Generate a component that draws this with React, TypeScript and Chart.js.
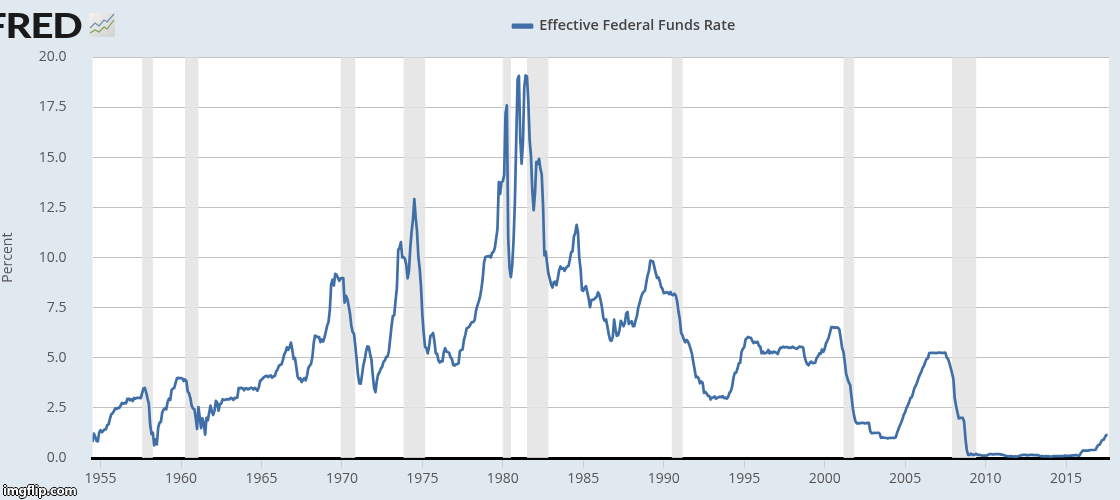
import React, { useEffect, useRef } from "react";
import { Chart, registerables } from "chart.js";

Chart.register(...registerables);

const seriesName = "Effective Federal Funds Rate";
const startYear = 1954.5;
const endYear = 2017.67;
const xTickYears = [1955, 1960, 1965, 1970, 1975, 1980, 1985, 1990, 1995, 2000, 2005, 2010, 2015];
const yTickValues = [0, 2.5, 5, 7.5, 10, 12.5, 15, 17.5, 20];
const recessionStarts = [1957.58, 1960.25, 1969.92, 1973.83, 1980.0, 1981.5, 1990.5, 2001.17, 2007.92];
const recessionEnds = [1958.25, 1961.08, 1970.83, 1975.17, 1980.5, 1982.83, 1991.17, 2001.83, 2009.42];

// Monthly values, beginning July 1954
const rates1950s = [
  0.80, 1.22, 1.07, 0.85, 0.83, 1.28,
  1.39, 1.29, 1.35, 1.43, 1.43, 1.64, 1.68, 1.96, 2.18, 2.24, 2.35, 2.48,
  2.45, 2.50, 2.50, 2.62, 2.75, 2.71, 2.75, 2.73, 2.95, 2.96, 2.88, 2.94,
  2.84, 3.00, 2.96, 3.00, 3.00, 3.00, 2.99, 3.24, 3.47, 3.50, 3.28, 2.98,
  2.72, 1.67, 1.20, 1.26, 0.63, 0.93, 0.68, 1.53, 1.76, 1.80, 2.27, 2.42,
  2.48, 2.43, 2.80, 2.96, 2.90, 3.39, 3.47, 3.50, 3.76, 3.98, 4.00, 3.99,
];
const rates1960s = [
  3.99, 3.97, 3.84, 3.92, 3.85, 3.32, 3.23, 2.98, 2.60, 2.47, 2.44, 1.98,
  1.45, 2.54, 2.02, 1.49, 1.98, 1.73, 1.17, 2.00, 1.88, 2.26, 2.61, 2.33,
  2.15, 2.37, 2.85, 2.78, 2.36, 2.68, 2.71, 2.93, 2.90, 2.90, 2.94, 2.93,
  2.92, 3.00, 2.98, 2.90, 3.00, 2.99, 3.02, 3.49, 3.48, 3.50, 3.48, 3.38,
  3.48, 3.48, 3.43, 3.47, 3.50, 3.50, 3.42, 3.50, 3.45, 3.36, 3.52, 3.85,
  3.90, 3.98, 4.04, 4.09, 4.10, 4.04, 4.09, 4.12, 4.01, 4.08, 4.10, 4.32,
  4.42, 4.60, 4.65, 4.67, 4.90, 5.17, 5.30, 5.53, 5.40, 5.53, 5.76, 5.40,
  4.94, 5.00, 4.53, 4.05, 3.94, 3.98, 3.79, 3.90, 3.99, 3.88, 4.13, 4.51,
  4.61, 4.71, 5.05, 5.76, 6.11, 6.07, 6.03, 6.03, 5.78, 5.92, 5.81, 6.02,
  6.30, 6.61, 6.79, 7.41, 8.67, 8.90, 8.61, 9.19, 9.15, 9.00, 8.85, 8.97,
];
const rates1970s = [
  8.98, 8.98, 7.76, 8.10, 7.95, 7.61, 7.21, 6.62, 6.29, 6.20, 5.60, 4.90,
  4.14, 3.72, 3.71, 4.15, 4.63, 4.91, 5.31, 5.57, 5.55, 5.20, 4.91, 4.14,
  3.50, 3.29, 3.83, 4.17, 4.27, 4.46, 4.55, 4.80, 4.87, 5.04, 5.06, 5.33,
  5.94, 6.58, 7.09, 7.12, 7.84, 8.49, 10.40, 10.50, 10.78, 10.01, 10.03, 9.95,
  9.65, 8.97, 9.35, 10.51, 11.31, 11.93, 12.92, 12.01, 11.34, 10.06, 9.45, 8.53,
  7.13, 6.24, 5.54, 5.49, 5.22, 5.55, 6.10, 6.14, 6.24, 5.82, 5.22, 5.20,
  4.87, 4.77, 4.84, 4.82, 5.29, 5.48, 5.31, 5.29, 5.25, 5.02, 4.95, 4.65,
  4.61, 4.68, 4.69, 4.73, 5.35, 5.39, 5.42, 5.90, 6.14, 6.47, 6.51, 6.56,
  6.70, 6.78, 6.79, 6.89, 7.36, 7.60, 7.81, 8.04, 8.45, 8.96, 9.76, 10.03,
  10.07, 10.06, 10.09, 10.01, 10.24, 10.29, 10.47, 10.94, 11.43, 13.77, 13.18, 13.78,
];
const rates1980s = [
  13.82, 14.13, 17.19, 17.61, 10.98, 9.47, 9.03, 9.61, 10.87, 12.81, 15.85, 18.90,
  19.08, 15.93, 14.70, 15.72, 18.52, 19.10, 19.04, 17.82, 15.87, 15.08, 13.31, 12.37,
  13.22, 14.78, 14.68, 14.94, 14.45, 14.15, 12.59, 10.12, 10.31, 9.71, 9.20, 8.95,
  8.68, 8.51, 8.77, 8.80, 8.63, 8.98, 9.37, 9.56, 9.45, 9.48, 9.34, 9.47,
  9.56, 9.59, 9.91, 10.29, 10.32, 11.06, 11.23, 11.64, 11.30, 9.99, 9.43, 8.38,
  8.35, 8.50, 8.58, 8.27, 7.97, 7.53, 7.88, 7.90, 7.92, 7.99, 8.05, 8.27,
  8.14, 7.86, 7.48, 6.99, 6.85, 6.92, 6.56, 6.17, 5.89, 5.85, 6.04, 6.91,
  6.43, 6.10, 6.13, 6.37, 6.85, 6.73, 6.58, 6.73, 7.22, 7.29, 6.69, 6.77,
  6.83, 6.58, 6.58, 6.87, 7.09, 7.51, 7.75, 8.01, 8.19, 8.30, 8.35, 8.76,
  9.12, 9.36, 9.85, 9.84, 9.81, 9.53, 9.24, 8.99, 9.02, 8.84, 8.55, 8.45,
];
const rates1990s = [
  8.23, 8.24, 8.28, 8.26, 8.18, 8.29, 8.15, 8.13, 8.20, 8.11, 7.81, 7.31,
  6.91, 6.25, 6.12, 5.91, 5.78, 5.90, 5.82, 5.66, 5.45, 5.21, 4.81, 4.43,
  4.03, 4.06, 3.98, 3.73, 3.82, 3.76, 3.25, 3.30, 3.22, 3.10, 3.09, 2.92,
  3.02, 3.03, 3.07, 2.96, 3.00, 3.04, 3.06, 3.03, 3.09, 2.99, 3.02, 2.96,
  3.05, 3.25, 3.34, 3.56, 4.01, 4.25, 4.26, 4.47, 4.73, 4.76, 5.29, 5.45,
  5.53, 5.92, 5.98, 6.05, 6.01, 6.00, 5.85, 5.74, 5.80, 5.76, 5.80, 5.60,
  5.56, 5.22, 5.31, 5.22, 5.24, 5.27, 5.40, 5.22, 5.30, 5.24, 5.31, 5.29,
  5.25, 5.19, 5.39, 5.51, 5.50, 5.56, 5.52, 5.54, 5.54, 5.50, 5.52, 5.50,
  5.56, 5.51, 5.49, 5.45, 5.49, 5.56, 5.54, 5.55, 5.51, 5.07, 4.83, 4.68,
  4.63, 4.76, 4.81, 4.74, 4.74, 4.76, 4.99, 5.07, 5.22, 5.20, 5.42, 5.30,
];
const rates2000s = [
  5.45, 5.73, 5.85, 6.02, 6.27, 6.53, 6.54, 6.50, 6.52, 6.51, 6.51, 6.40,
  5.98, 5.49, 5.31, 4.80, 4.21, 3.97, 3.77, 3.65, 3.07, 2.49, 2.09, 1.82,
  1.73, 1.74, 1.73, 1.75, 1.75, 1.75, 1.73, 1.74, 1.75, 1.75, 1.34, 1.24,
  1.24, 1.26, 1.25, 1.26, 1.26, 1.22, 1.01, 1.03, 1.01, 1.01, 1.00, 0.98,
  1.00, 1.01, 1.00, 1.00, 1.00, 1.03, 1.26, 1.43, 1.61, 1.76, 1.93, 2.16,
  2.28, 2.50, 2.63, 2.79, 3.00, 3.04, 3.26, 3.50, 3.62, 3.78, 4.00, 4.16,
  4.29, 4.49, 4.59, 4.79, 4.94, 4.99, 5.24, 5.25, 5.25, 5.25, 5.25, 5.24,
  5.25, 5.26, 5.26, 5.25, 5.25, 5.25, 5.26, 5.02, 4.94, 4.76, 4.49, 4.24,
  3.94, 2.98, 2.61, 2.28, 1.98, 2.00, 2.01, 2.00, 1.81, 0.97, 0.39, 0.16,
  0.15, 0.22, 0.18, 0.15, 0.18, 0.21, 0.16, 0.16, 0.15, 0.12, 0.12, 0.12,
];
const rates2010s = [
  0.11, 0.13, 0.16, 0.20, 0.20, 0.18, 0.18, 0.19, 0.19, 0.19, 0.19, 0.18,
  0.17, 0.16, 0.14, 0.10, 0.09, 0.09, 0.07, 0.10, 0.08, 0.07, 0.08, 0.07,
  0.08, 0.10, 0.13, 0.14, 0.16, 0.16, 0.16, 0.13, 0.14, 0.16, 0.16, 0.16,
  0.14, 0.15, 0.14, 0.15, 0.11, 0.09, 0.09, 0.08, 0.08, 0.09, 0.08, 0.09,
  0.07, 0.07, 0.08, 0.09, 0.09, 0.10, 0.09, 0.09, 0.09, 0.09, 0.09, 0.12,
  0.11, 0.11, 0.11, 0.12, 0.12, 0.13, 0.13, 0.14, 0.14, 0.12, 0.12, 0.24,
  0.34, 0.38, 0.36, 0.37, 0.37, 0.38, 0.39, 0.40, 0.40, 0.40, 0.41, 0.54,
  0.65, 0.66, 0.79, 0.90, 0.91, 1.04, 1.15, 1.16,
];

const monthlyRates = [...rates1950s, ...rates1960s, ...rates1970s, ...rates1980s, ...rates1990s, ...rates2000s, ...rates2010s];
const points = monthlyRates.map((y, i) => ({ x: startYear + i / 12, y }));

const PAGE_BG = "#e1e9f0";
const LINE = "#3f6fa6";
const TEXT = "#555555";
const FONT = "'Open Sans', sans-serif";

const backdropPlugin = {
  id: "backdrop",
  beforeDraw(chart: any) {
    const { ctx, chartArea: a } = chart;
    ctx.save();
    ctx.fillStyle = "#ffffff";
    ctx.fillRect(a.left, a.top, a.right - a.left, a.bottom - a.top);
    ctx.restore();
  },
  beforeDatasetsDraw(chart: any) {
    const { ctx, chartArea: a, scales } = chart;
    ctx.save();
    ctx.fillStyle = "rgba(228,228,228,0.88)";
    recessionStarts.forEach((s, i) => {
      const x0 = scales.x.getPixelForValue(s);
      const x1 = scales.x.getPixelForValue(recessionEnds[i]);
      ctx.fillRect(x0, a.top, x1 - x0, a.bottom - a.top);
    });
    ctx.restore();
  },
  afterLayout(chart: any) {
    const lg = chart.legend;
    const w = lg.width;
    lg.left = 503;
    lg.right = 503 + w;
    const h = lg.height;
    lg.top = 9;
    lg.bottom = 9 + h;
  },
};

export default function App() {
  const ref = useRef<HTMLCanvasElement>(null);
  useEffect(() => {
    const chart = new Chart(ref.current!, {
      type: "line",
      data: {
        datasets: [
          {
            label: seriesName,
            data: points,
            borderColor: LINE,
            backgroundColor: LINE,
            borderWidth: 2.7,
            pointRadius: 0,
            tension: 0,
            borderJoinStyle: "round",
          },
        ],
      },
      options: {
        animation: false,
        responsive: false,
        parsing: false as any,
        normalized: true,
        layout: { padding: { top: 23, right: 11, bottom: 0, left: 0 } },
        plugins: {
          tooltip: { enabled: false },
          legend: {
            position: "top",
            align: "start",
            labels: {
              boxWidth: 19,
              boxHeight: 2.5,
              padding: 10,
              color: "#444444",
              font: { family: FONT, size: 14.4, weight: "600" },
            },
          },
        },
        scales: {
          x: {
            type: "linear",
            min: startYear,
            max: endYear,
            afterFit(s: any) {
              s.height = 42;
            },
            afterBuildTicks(s: any) {
              s.ticks = xTickYears.map((value) => ({ value }));
            },
            border: { display: true, color: "#000000", width: 3 },
            grid: { drawOnChartArea: false, drawTicks: true, tickLength: 10, color: "#c0d0e0", lineWidth: 1 },
            ticks: {
              autoSkip: false,
              maxRotation: 0,
              padding: 3,
              color: TEXT,
              font: { family: FONT, size: 14 },
              callback: (v: any) => String(v),
            },
          },
          y: {
            type: "linear",
            min: 0,
            max: 20,
            afterFit(s: any) {
              s.width = 92.5;
            },
            afterBuildTicks(s: any) {
              s.ticks = yTickValues.map((value) => ({ value }));
            },
            border: { display: false },
            grid: { color: "#c0c0c0", lineWidth: 1, drawTicks: false },
            title: { display: true, text: "Percent", color: TEXT, font: { family: FONT, size: 14 }, padding: { top: 0, bottom: 0 } },
            ticks: {
              padding: 26,
              color: TEXT,
              font: { family: FONT, size: 14 },
              callback: (v: any) => Number(v).toFixed(1),
            },
          },
        },
      },
      plugins: [backdropPlugin],
    } as any);
    return () => chart.destroy();
  }, []);

  return (
    <div style={{ position: "fixed", left: 0, top: 0, width: 1120, height: 500, background: PAGE_BG, overflow: "hidden" }}>
      <canvas ref={ref} width={1120} height={500} style={{ position: "absolute", left: 0, top: 0, display: "block" }} />
      <span
        style={{
          position: "absolute",
          left: -16,
          top: 5,
          font: "900 34px/40px Lato, sans-serif",
          color: "#1a1a1a",
          letterSpacing: -1,
          transform: "scaleX(1.18)",
          transformOrigin: "left center",
        }}
      >
        FRED
      </span>
      <svg width={26} height={24} viewBox="0 0 26 24" style={{ position: "absolute", left: 89, top: 13 }}>
        <defs>
          <linearGradient id="tile" x1="0" y1="0" x2="1" y2="1">
            <stop offset="0" stopColor="#f2f2f0" />
            <stop offset="1" stopColor="#cfd2d0" />
          </linearGradient>
        </defs>
        <rect width="26" height="24" rx="2" fill="url(#tile)" />
        <polyline points="1,15 6,10 10,13 15,7 18,9 25,1" fill="none" stroke="#6f8fb4" strokeWidth="1.2" />
        <polyline points="1,20 6,17 10,19 15,14 18,16 25,7" fill="none" stroke="#7f9f5a" strokeWidth="1.2" />
      </svg>
      <span
        style={{
          position: "absolute",
          left: 3,
          top: 484,
          font: "700 12px/15px 'DejaVu Sans', sans-serif",
          color: "#ffffff",
          letterSpacing: -0.6,
          textShadow: "1px 0 0 #000,-1px 0 0 #000,0 1px 0 #000,0 -1px 0 #000",
        }}
      >
        imgflip.com
      </span>
    </div>
  );
}
